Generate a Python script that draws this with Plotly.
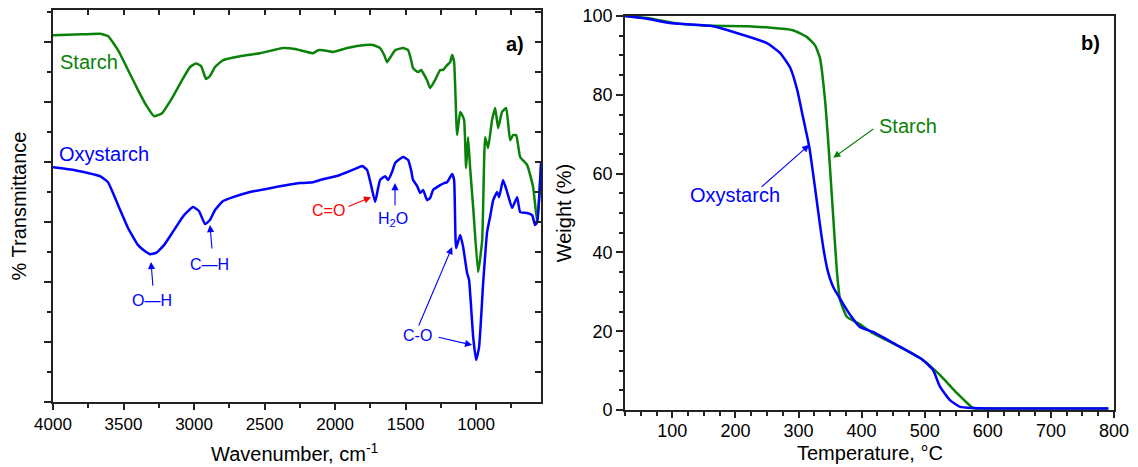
import plotly.graph_objects as go

# ---------------- FTIR data (panel a) ----------------
ftir_starch_wn = [4000, 3844, 3667, 3610, 3539, 3468, 3397, 3340, 3284, 3227, 3156, 3085, 3028, 2986,
                  2950, 2915, 2887, 2851, 2794, 2674, 2532, 2369, 2284, 2248, 2156, 2121, 2085, 2014,
                  1915, 1787, 1730, 1681, 1652, 1631, 1603, 1574, 1518, 1482, 1461, 1447, 1411, 1390,
                  1376, 1348, 1326, 1291, 1255, 1234, 1206, 1184, 1170, 1156, 1135, 1113, 1099, 1085,
                  1071, 1057, 1043, 1021, 986, 957, 936, 915, 887, 865, 844, 816, 787, 759, 738, 716,
                  688, 638, 596, 567, 553, 539]
ftir_starch_t = [122.3, 122.5, 122.8, 122.0, 117.3, 110.7, 104.0, 99.0, 95.3, 96.3, 101.3, 107.3, 111.7, 112.9,
                 112.0, 107.7, 108.7, 111.7, 114.0, 115.3, 116.3, 118.0, 117.7, 117.3, 116.3, 117.3, 117.3, 116.7,
                 118.0, 119.0, 119.0, 118.0, 115.7, 113.3, 115.3, 117.3, 118.0, 117.3, 114.0, 111.3, 110.0, 110.7,
                 109.7, 107.3, 104.7, 107.3, 110.7, 110.7, 112.3, 113.3, 115.7, 113.3, 89.0, 96.7, 95.7, 94.0,
                 78.0, 88.3, 78.3, 65.0, 43.3, 54.0, 88.3, 84.7, 94.0, 98.0, 91.3, 96.7, 98.0, 87.3, 89.0, 89.0,
                 81.7, 79.0, 71.7, 60.0, 68.3, 80.0]

ftir_oxy_wn = [4000, 3844, 3667, 3610, 3539, 3468, 3397, 3340, 3312, 3270, 3213, 3142, 3071, 3007, 2965,
               2922, 2887, 2851, 2794, 2723, 2603, 2461, 2248, 2156, 2106, 1965, 1858, 1808, 1773, 1745,
               1716, 1695, 1681, 1645, 1624, 1596, 1574, 1518, 1482, 1461, 1447, 1418, 1397, 1376, 1348,
               1326, 1305, 1255, 1227, 1206, 1170, 1156, 1142, 1113, 1092, 1064, 1050, 1021, 1000, 979,
               950, 922, 901, 879, 851, 837, 809, 780, 745, 709, 688, 638, 603, 582, 567, 539]
ftir_oxy_t = [78.3, 77.3, 75.3, 73.3, 65.7, 58.0, 52.3, 50.0, 49.3, 49.7, 52.3, 57.3, 62.3, 65.0, 63.7,
              59.3, 60.7, 64.0, 67.0, 68.3, 70.0, 71.3, 73.0, 73.3, 74.0, 75.7, 77.7, 78.7, 77.3, 72.3,
              66.7, 71.3, 74.0, 75.3, 74.0, 76.7, 79.7, 81.7, 80.7, 77.3, 74.0, 72.0, 69.7, 70.7, 67.3,
              68.0, 70.7, 72.3, 73.0, 73.3, 76.0, 74.0, 51.3, 55.7, 51.7, 43.0, 40.7, 21.7, 14.0, 18.3,
              39.7, 56.7, 61.7, 67.3, 70.0, 68.3, 74.0, 70.0, 64.7, 68.3, 63.3, 63.0, 62.3, 59.0, 60.0, 79.7]

# ---------------- TGA data (panel b) ----------------
tga_starch_temp = [25, 60, 112, 160, 220, 291, 313, 326, 334, 342, 348, 354, 361, 366, 377, 397, 418,
                   461, 497, 524, 551, 577, 600, 700, 791]
tga_starch_w = [100.0, 99.5, 98.0, 97.5, 97.4, 96.4, 94.7, 92.6, 89.3, 78.7, 66.0, 51.5, 34.8, 27.9, 23.6,
                21.8, 19.5, 16.0, 12.7, 8.9, 4.3, 0.5, 0.4, 0.4, 0.4]

tga_oxy_temp = [25, 60, 96, 160, 202, 250, 271, 287, 298, 307, 317, 326, 334, 340, 346, 355, 369, 382,
                397, 418, 461, 497, 513, 524, 540, 556, 577, 600, 700, 791]
tga_oxy_w = [100.0, 99.3, 98.2, 97.5, 95.7, 93.1, 90.6, 86.8, 81.2, 74.4, 66.8, 56.6, 47.0, 40.5, 35.5,
             31.2, 27.4, 24.1, 21.1, 19.8, 16.0, 12.7, 10.2, 6.0, 2.5, 0.8, 0.5, 0.4, 0.4, 0.4]

ftir_ticks = [4000, 3500, 3000, 2500, 2000, 1500, 1000]
tga_xticks = [100, 200, 300, 400, 500, 600, 700, 800]
tga_yticks = [0, 20, 40, 60, 80, 100]

GREEN = "rgb(10,130,10)"
BLUE = "rgb(0,0,255)"
RED = "rgb(255,0,0)"
FONT = "Liberation Sans, Arial, sans-serif"
AX = "#222222"

# page has an 8px body margin: the figure starts at (8, 8) and fills the rest of the window
W, H = 1130, 459
OFF = 8
def xd(a, b):
    return [(a - OFF) / W, (b - OFF) / W]
def yd(top, bottom):
    return [(H - (bottom - OFF)) / H, (H - (top - OFF)) / H]
def px(x):
    return (x - OFF) / W
def py(y):
    return (H - (y - OFF)) / H

ldom = xd(53, 541)
rdom = xd(625, 1114)
lydom = yd(10, 402)
rydom = yd(16, 410)

fig = go.Figure()
fig.add_trace(go.Scatter(x=ftir_starch_wn, y=ftir_starch_t, mode="lines",
                         line=dict(color=GREEN, width=2.5, shape="spline", smoothing=0.4), xaxis="x", yaxis="y"))
fig.add_trace(go.Scatter(x=ftir_oxy_wn, y=ftir_oxy_t, mode="lines",
                         line=dict(color=BLUE, width=2.5, shape="spline", smoothing=0.4), xaxis="x", yaxis="y"))
fig.add_trace(go.Scatter(x=tga_starch_temp, y=tga_starch_w, mode="lines",
                         line=dict(color=GREEN, width=2.5, shape="spline", smoothing=0.5), xaxis="x2", yaxis="y2"))
fig.add_trace(go.Scatter(x=tga_oxy_temp, y=tga_oxy_w, mode="lines",
                         line=dict(color=BLUE, width=2.5, shape="spline", smoothing=0.5), xaxis="x2", yaxis="y2"))
# empty trace for overlay axes (inside mirror ticks on panel a)
fig.add_trace(go.Scatter(x=[], y=[], xaxis="x3", yaxis="y3", showlegend=False))

FTIR_RANGE = [4000, 540]
FTIR_YMAX = 130.7

ltickfont = dict(family=FONT, size=17, color="black")
rtickfont = dict(family=FONT, size=18, color="black")
titlefont = dict(family=FONT, size=20, color="black")
rtitlefont = dict(family=FONT, size=20, color="black")

fig.update_layout(
    width=W, height=H, margin=dict(l=0, r=0, t=0, b=0),
    paper_bgcolor="white", plot_bgcolor="white", showlegend=False,
    font=dict(family=FONT, color="black"),
    xaxis=dict(domain=ldom, anchor="y", range=FTIR_RANGE, tickvals=ftir_ticks,
               ticks="outside", ticklen=6, tickwidth=1.5, tickcolor=AX,
               showline=True, linecolor=AX, linewidth=1.8, showgrid=False, zeroline=False,
               tickfont=ltickfont, automargin=False, ticklabeloverflow="allow",
               minor=dict(dtick=250, tick0=0, ticks="outside", ticklen=4, tickcolor=AX, tickwidth=1.5)),
    yaxis=dict(domain=lydom, anchor="x", range=[0, FTIR_YMAX], tickvals=[0, 20, 40, 60, 80, 100, 120],
               showticklabels=False, ticks="outside", ticklen=7, tickwidth=1.5, tickcolor=AX,
               showline=True, linecolor=AX, linewidth=1.8, showgrid=False, zeroline=False, automargin=False,
               minor=dict(dtick=10, tick0=0, ticks="outside", ticklen=4, tickcolor=AX, tickwidth=1.5),
               title=dict(text="% Transmittance", font=titlefont, standoff=12)),
    xaxis3=dict(domain=ldom, anchor="y3", overlaying="x", side="top", range=FTIR_RANGE,
                dtick=250, tick0=0, showticklabels=False, ticks="inside", ticklen=5, tickwidth=1.5,
                tickcolor=AX, showline=True, linecolor=AX, linewidth=1.8, showgrid=False, zeroline=False),
    yaxis3=dict(domain=lydom, anchor="x3", overlaying="y", side="right", range=[0, FTIR_YMAX],
                dtick=10, tick0=0, showticklabels=False, ticks="inside", ticklen=6, tickwidth=1.5,
                tickcolor=AX, showline=True, linecolor=AX, linewidth=1.8, showgrid=False, zeroline=False),
    xaxis2=dict(domain=rdom, anchor="y2", range=[25, 800], tickvals=tga_xticks,
                ticks="outside", ticklen=6, tickwidth=1.5, tickcolor=AX, mirror=True,
                showline=True, linecolor=AX, linewidth=1.8, showgrid=False, zeroline=False,
                tickfont=rtickfont, automargin=False, ticklabeloverflow="allow", ticklabelstandoff=-3,
                minor=dict(dtick=25, tick0=0, ticks="outside", ticklen=4, tickcolor=AX, tickwidth=1.5)),
    yaxis2=dict(domain=rydom, anchor="x2", range=[0, 100], tickvals=tga_yticks,
                ticks="outside", ticklen=7, tickwidth=1.5, tickcolor=AX, mirror=True,
                showline=True, linecolor=AX, linewidth=1.8, showgrid=False, zeroline=False,
                tickfont=rtickfont, automargin=False, ticklabeloverflow="allow",
                minor=dict(dtick=5, tick0=0, ticks="outside", ticklen=4, tickcolor=AX, tickwidth=1.5),
                title=dict(text="Weight (%)", font=rtitlefont, standoff=5)),
)

ann = []

# x-axis titles (placed as paper-anchored text so they are not squeezed against the tick labels)
ann.append(dict(text="Wavenumber, cm<sup>-1</sup>", x=px(295), y=py(452), xref="paper", yref="paper",
                showarrow=False, xanchor="center", yanchor="middle", font=titlefont))
ann.append(dict(text="Temperature, °C", x=px(870), y=py(453), xref="paper", yref="paper",
                showarrow=False, xanchor="center", yanchor="middle", font=rtitlefont))

def label(text, x, y, color, size=17, xr="x", yr="y", xanchor="center", bold=False):
    ann.append(dict(text=("<b>%s</b>" % text) if bold else text, x=x, y=y, xref=xr, yref=yr,
                    showarrow=False, xanchor=xanchor, yanchor="middle",
                    font=dict(family=FONT, size=size, color=color)))

def arrow(tip, tail, color, xr="x", yr="y"):
    ann.append(dict(text="", x=tip[0], y=tip[1], ax=tail[0], ay=tail[1], xref=xr, yref=yr,
                    axref=xr, ayref=yr, showarrow=True, arrowhead=2, arrowsize=1.3,
                    arrowwidth=1.1, arrowcolor=color))

# panel a labels
label("a)", 723, 119.3, "black", size=20, bold=True)
label("Starch", 3965, 113.3, GREEN, size=20, xanchor="left")
label("Oxystarch", 3975, 82.7, BLUE, size=20, xanchor="left")
label("O—H", 3298, 34, BLUE, size=16)
arrow((3305, 46.7), (3291, 38.3), BLUE)
label("C—H", 2887, 46, BLUE, size=16)
arrow((2887, 59), (2872, 50.7), BLUE)
label("C=O", 2050, 64, RED, size=16)
arrow((1745, 68.3), (1915, 65), RED)
label("H<sub>2</sub>O", 1589, 60.7, BLUE, size=16)
arrow((1575, 73), (1575, 65), BLUE)
label("C-O", 1419, 22.3, BLUE, size=16)
arrow((1170, 51.7), (1411, 25), BLUE)
arrow((1028, 19), (1277, 21.7), BLUE)

# panel b labels
label("b)", 762, 93.1, "black", size=20, xr="x2", yr="y2", bold=True)
label("Starch", 424, 72, GREEN, size=20, xr="x2", yr="y2", xanchor="left")
arrow((355, 64), (421, 71.6), GREEN, xr="x2", yr="y2")
label("Oxystarch", 199, 54.6, BLUE, size=20, xr="x2", yr="y2")
arrow((317, 67.3), (239, 56.3), BLUE, xr="x2", yr="y2")

fig.update_layout(annotations=ann)
fig.write_html("out.html")
